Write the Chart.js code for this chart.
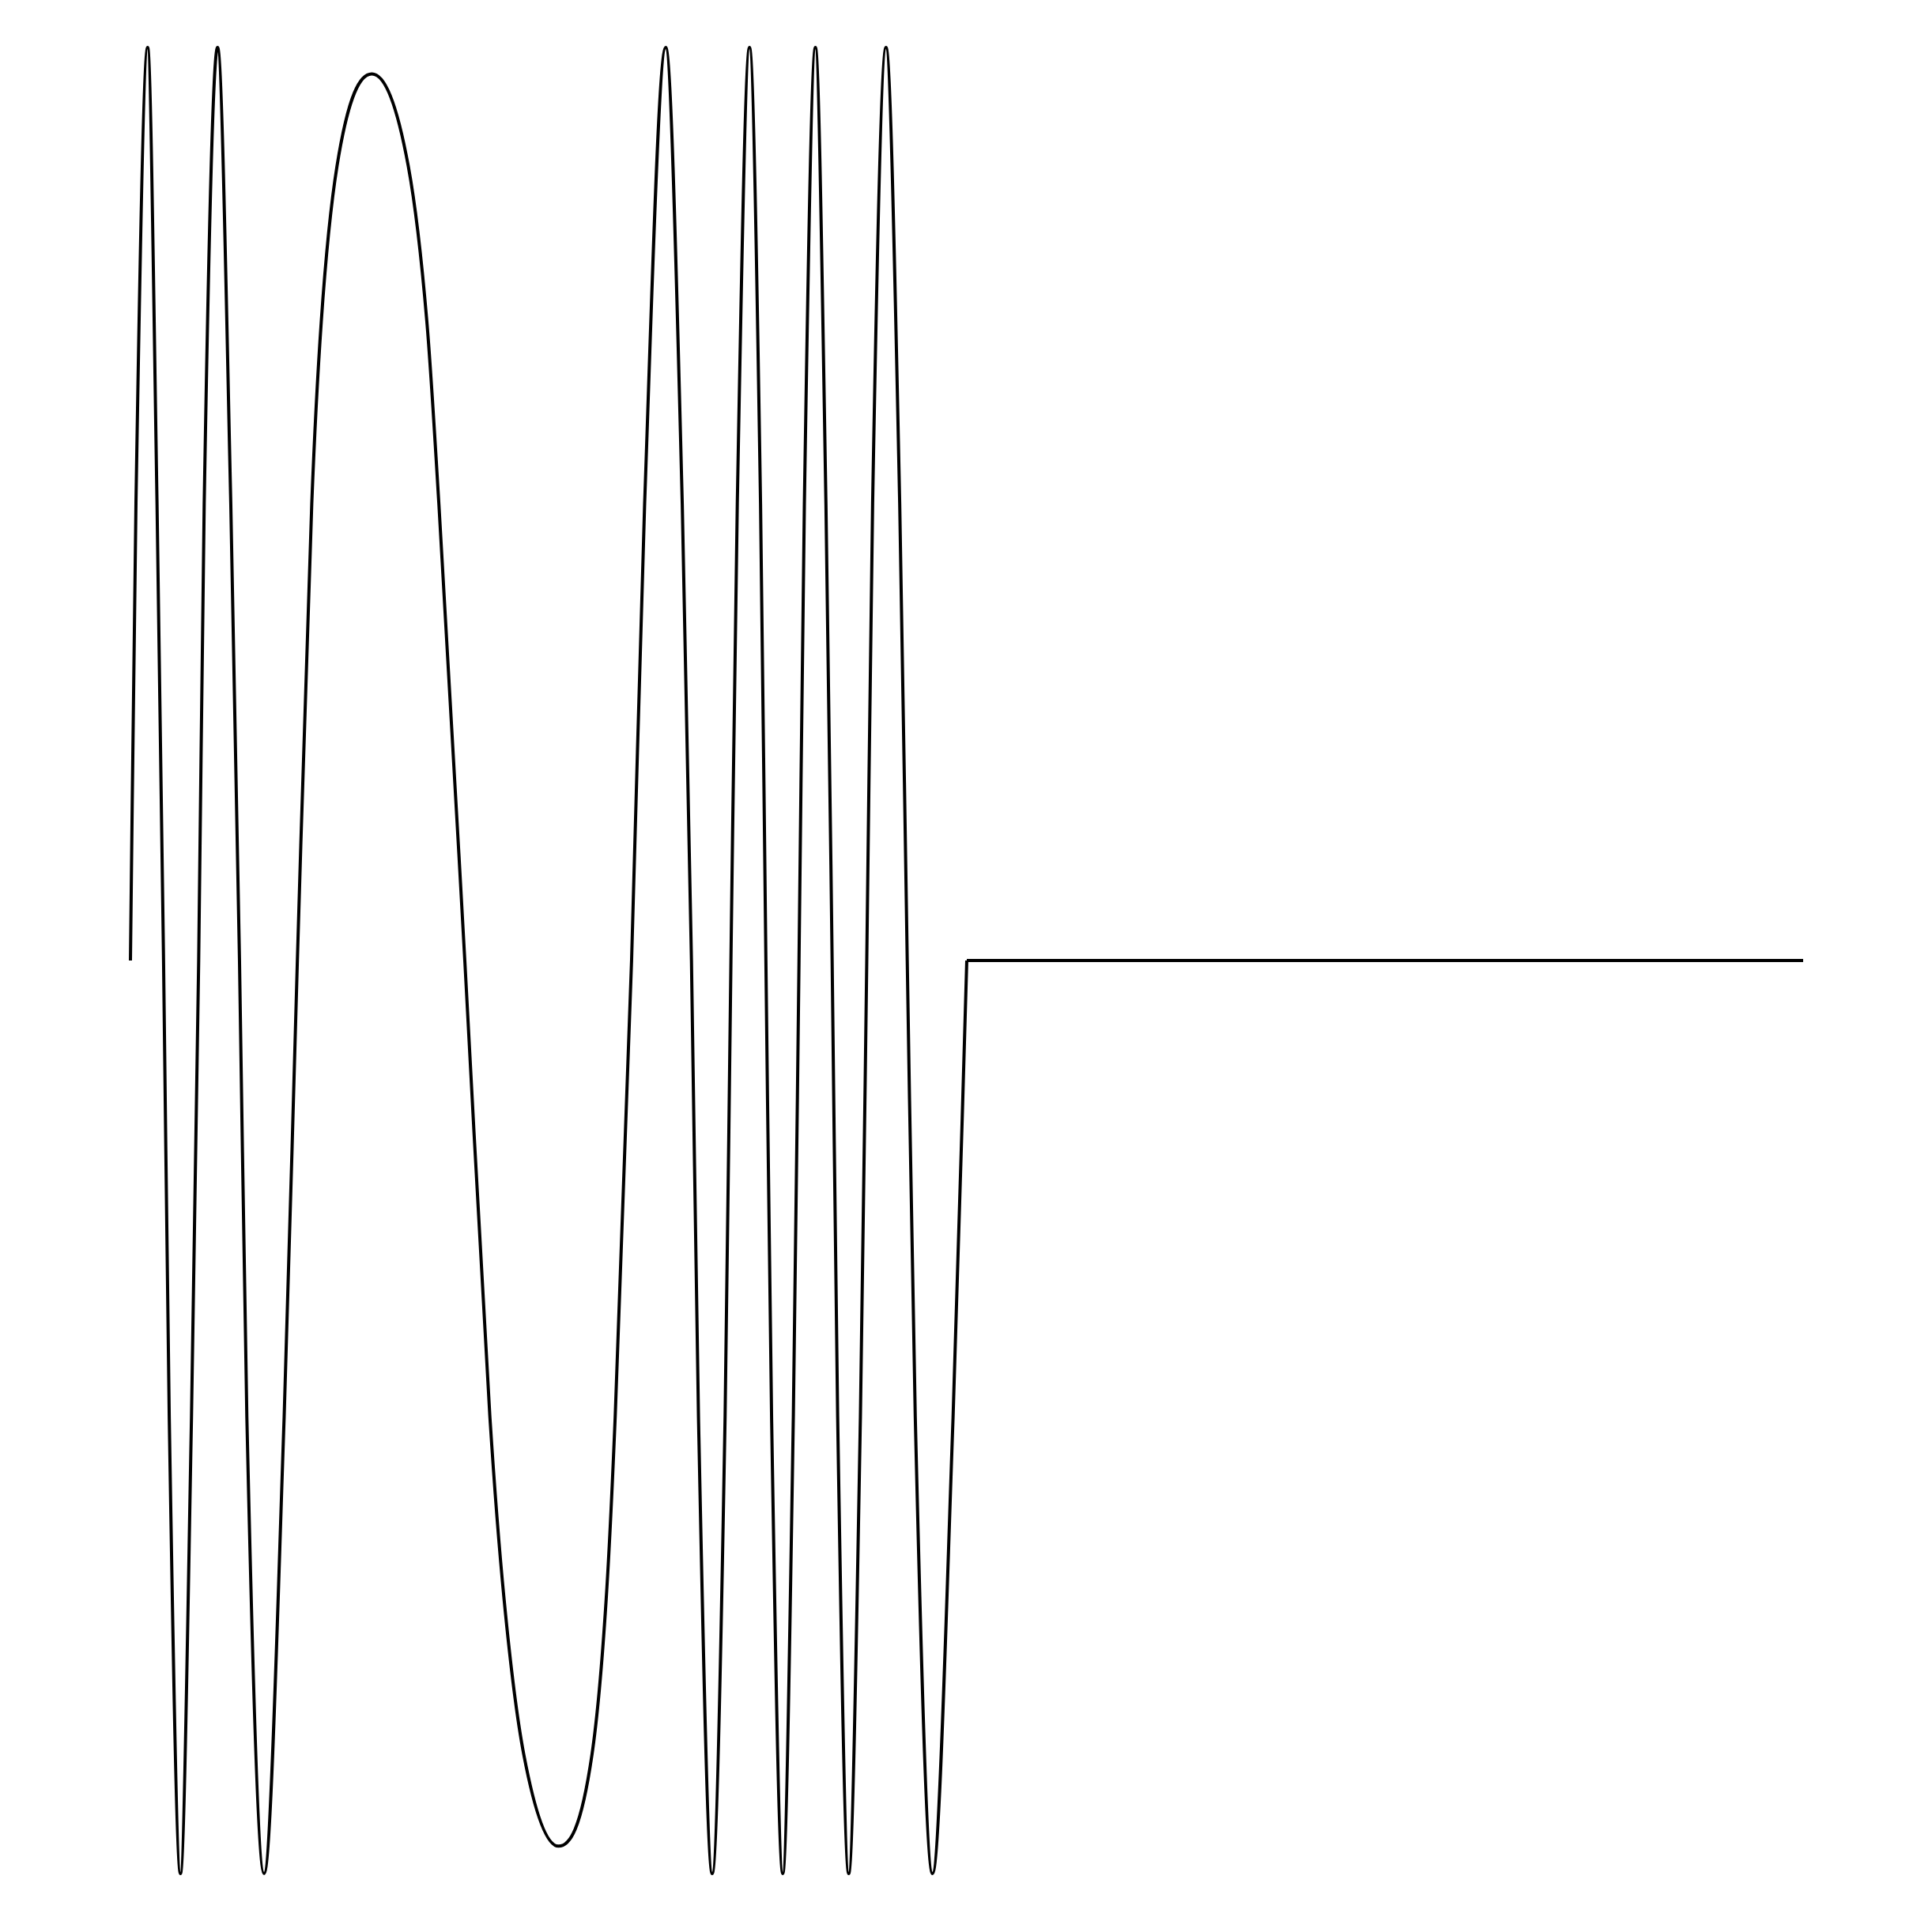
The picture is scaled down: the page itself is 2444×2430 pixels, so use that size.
<!DOCTYPE html>
<html>
<head>
<meta charset="utf-8">
<script src="https://cdn.jsdelivr.net/npm/chart.js@4"></script>
<style>
  html, body { margin: 0; padding: 0; background: #fff; }
  #wrap { width: 2444px; height: 2430px; position: relative; }
</style>
</head>
<body>
<div id="wrap"><canvas id="wave"></canvas></div>
<script>
// signal: time (s) and amplitude at peaks, troughs, level crossings and zero crossings
const waveTime = [
  0.0000, 0.0033, 0.0103, 0.0159, 0.0198, 0.0232, 0.0299, 0.0365, 0.0408,
  0.0441, 0.0521, 0.0600, 0.0652, 0.0696, 0.0799, 0.0919, 0.0998,
  0.1084, 0.1141, 0.1235, 0.1443, 0.1661, 0.1772, 0.1844, 0.1999,
  0.2149, 0.2234, 0.2352, 0.2559, 0.2759, 0.2844, 0.2898, 0.2996,
  0.3074, 0.3200, 0.3299, 0.3354, 0.3396, 0.3478, 0.3555, 0.3590,
  0.3628, 0.3701, 0.3767, 0.3799, 0.3833, 0.3900, 0.3963, 0.3997,
  0.4029, 0.4095, 0.4158, 0.4195, 0.4228, 0.4294, 0.4364, 0.4402,
  0.4437, 0.4517, 0.4599, 0.4644, 0.4692, 0.4795, 0.4918, 0.5000
];
const waveValue = [
  0, 0.5, 1, 0.5, 0, -0.5, -1, -0.5, 0,
  0.5, 1, 0.5, 0, -0.5, -1, -0.5, 0,
  0.5, 0.7, 0.87, 0.971, 0.87, 0.7, 0.5, 0,
  -0.5, -0.7, -0.87, -0.970, -0.87, -0.7, -0.5, 0,
  0.5, 1, 0.5, 0, -0.5, -1, -0.5, 0,
  0.5, 1, 0.5, 0, -0.5, -1, -0.5, 0,
  0.5, 1, 0.5, 0, -0.5, -1, -0.5, 0,
  0.5, 1, 0.5, 0, -0.5, -1, -0.5, 0
];
// silent tail after the burst
const flatTime = [0.5, 1.0];
const flatValue = [0, 0];

const ctx = document.getElementById('wave');

new Chart(ctx, {
  type: 'scatter',
  data: {
    datasets: [{
      data: waveTime.map((t, i) => ({ x: t, y: waveValue[i] })),
      showLine: true,
      borderColor: '#000',
      borderWidth: 4,
      pointRadius: 0,
      cubicInterpolationMode: 'monotone',
      clip: false
    }, {
      data: flatTime.map((t, i) => ({ x: t, y: flatValue[i] })),
      showLine: true,
      borderColor: '#000',
      borderWidth: 4,
      pointRadius: 0,
      tension: 0,
      clip: false
    }]
  },
  options: {
    responsive: true,
    maintainAspectRatio: false,
    animation: false,
    devicePixelRatio: 1,
    layout: {
      padding: { left: 165, right: 163, top: 60, bottom: 60 }
    },
    plugins: {
      legend: { display: false },
      tooltip: { enabled: false }
    },
    scales: {
      x: { type: 'linear', min: 0, max: 1, display: false },
      y: { min: -1, max: 1, display: false }
    }
  }
});
</script>
</body>
</html>
